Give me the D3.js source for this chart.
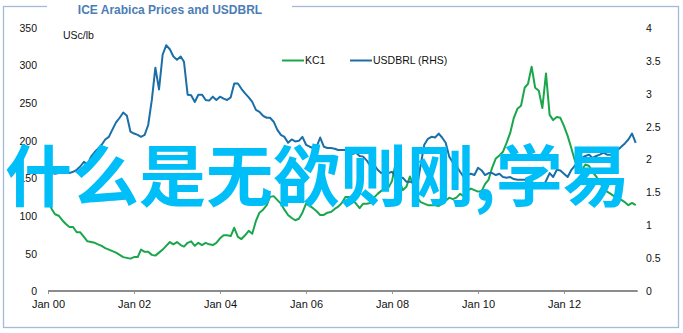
<!DOCTYPE html>
<html>
<head>
<meta charset="utf-8">
<script src="https://cdn.jsdelivr.net/npm/d3@7"></script>
<style>
  body { margin: 0; background: #fff; }
  svg { display: block; font-family: "Liberation Sans", Arial, sans-serif; }
</style>
</head>
<body>
<svg width="683" height="333"></svg>
<script>
// monthly series, first month Jan 2000
const startYear = 2000;
const kc1 = [121,109,102,100,94,89,85,85,78,78,
  72,66,65,64,62,60,57,55,53,51,
  48,45,44,43,45,45,55,52,52,48,
  47,51,55,60,65,62,65,61,59,64,
  66,60,64,61,64,62,61,64,70,74,
  74,73,84,72,69,74,80,76,93,104,
  108,114,125,126,121,116,108,101,97,94,
  96,104,116,113,110,106,101,101,104,105,
  109,112,117,125,125,121,116,110,116,116,
  117,124,129,133,136,137,146,170,148,134,
  138,152,141,124,118,116,114,114,114,113,
  116,120,124,122,124,129,126,133,136,134,
  132,133,142,148,164,176,180,185,197,210,
  230,242,246,270,275,298,270,266,243,289,
  234,227,231,230,219,206,191,174,162,161,
  168,166,158,152,144,137,132,129,126,124,
  121,118,114,117,114];
const usdbrl = [1.76,1.79,1.78,1.79,1.83,1.84,1.79,1.81,1.84,1.89,
  1.96,1.92,2.04,2.11,2.16,2.22,2.30,2.34,2.45,2.56,
  2.63,2.71,2.66,2.42,2.39,2.37,2.34,2.37,2.52,2.90,
  3.39,3.06,3.59,3.73,3.67,3.56,3.51,3.56,3.48,2.98,
  2.97,2.87,2.98,2.98,2.90,2.89,2.95,2.90,2.95,2.92,
  2.90,2.94,3.15,3.15,3.07,3.00,2.94,2.87,2.75,2.72,
  2.66,2.63,2.63,2.57,2.45,2.37,2.34,2.25,2.30,2.27,
  2.28,2.34,2.22,2.19,2.17,2.19,2.33,2.19,2.17,2.17,
  2.16,2.14,2.14,2.14,2.11,2.08,2.10,2.05,2.04,1.98,
  1.90,1.92,1.84,1.79,1.81,1.79,1.81,1.73,1.70,1.72,
  1.66,1.66,1.64,1.58,1.92,2.22,2.31,2.34,2.33,2.39,
  2.33,2.25,2.04,1.95,1.90,1.81,1.73,1.76,1.78,1.76,
  1.87,1.83,1.76,1.79,1.79,1.76,1.78,1.73,1.72,1.73,
  1.70,1.69,1.69,1.69,1.67,1.63,1.58,1.57,1.58,1.67,
  1.79,1.73,1.84,1.83,1.78,1.73,1.83,1.90,1.96,2.02,
  2.05,2.07,2.02,2.05,2.07,2.10,2.07,2.07,2.08,2.14,
  2.19,2.24,2.30,2.39,2.25];
const leftTicks = [0, 50, 100, 150, 200, 250, 300, 350];
const rightTicks = [0, 0.5, 1, 1.5, 2, 2.5, 3, 3.5, 4];
const seriesNames = ["KC1", "USDBRL (RHS)"];
const colors = ["#1aa64b", "#1b6fa8"];

const months = kc1.map((d, i) => new Date(startYear, i, 1));

const svg = d3.select("svg");

const x = d3.scaleTime()
    .domain([new Date(2000, 0, 1), new Date(2012, 0, 1)])
    .range([48, 564]);
const yL = d3.scaleLinear().domain([0, 350]).range([291, 27.5]);
const yR = d3.scaleLinear().domain([0, 4]).range([291, 27.5]);

// frame with title gap
svg.append("rect")
    .attr("x", 3.5).attr("y", 6.5)
    .attr("width", 675).attr("height", 321)
    .attr("fill", "none")
    .attr("stroke", "#a3bbd6")
    .attr("stroke-width", 1.3);
svg.append("rect")
    .attr("x", 47).attr("y", 3).attr("width", 245).attr("height", 7)
    .attr("fill", "#fff");
svg.append("text")
    .attr("x", 170).attr("y", 13.5)
    .attr("text-anchor", "middle")
    .style("font-size", "12px")
    .style("font-weight", "bold")
    .style("fill", "#4a7db5")
    .text("ICE Arabica Prices and USDBRL");

// axes
const leftAxis = svg.append("g")
    .attr("transform", "translate(37,0)")
    .call(d3.axisLeft(yL).tickValues(leftTicks).tickSize(0).tickPadding(0));
const rightAxis = svg.append("g")
    .attr("transform", "translate(646,0)")
    .call(d3.axisRight(yR).tickValues(rightTicks).tickSize(0).tickPadding(0).tickFormat(d => d));
[leftAxis, rightAxis].forEach(g => {
    g.select(".domain").remove();
    g.selectAll("text").style("font-size", "10.5px").style("fill", "#111").attr("dy", "0.35em");
});

const bottomAxis = svg.append("g")
    .attr("transform", "translate(0,291)")
    .call(d3.axisBottom(x)
        .ticks(d3.timeYear.every(2))
        .tickSize(3)
        .tickPadding(6)
        .tickFormat(d3.timeFormat("Jan %y")));
bottomAxis.select(".domain").remove();
bottomAxis.selectAll("line").attr("stroke", "#999");
bottomAxis.selectAll("text").style("font-size", "11px").style("fill", "#111");

svg.append("line")
    .attr("x1", x(months[0])).attr("x2", x(months[months.length - 1]) + 2)
    .attr("y1", 291).attr("y2", 291)
    .attr("stroke", "#8c8c8c")
    .attr("stroke-width", 2);

svg.append("text")
    .attr("x", 63).attr("y", 39)
    .style("font-size", "10.5px")
    .style("fill", "#111")
    .text("USc/lb");

// lines
const lineL = d3.line().x((d, i) => x(months[i])).y(d => yL(d));
const lineR = d3.line().x((d, i) => x(months[i])).y(d => yR(d));

svg.append("path")
    .datum(kc1)
    .attr("d", lineL)
    .attr("fill", "none")
    .attr("stroke", colors[0])
    .attr("stroke-width", 2)
    .attr("stroke-linejoin", "round");
svg.append("path")
    .datum(usdbrl)
    .attr("d", lineR)
    .attr("fill", "none")
    .attr("stroke", colors[1])
    .attr("stroke-width", 2)
    .attr("stroke-linejoin", "round");

// legend
const legend = svg.append("g").attr("transform", "translate(282,60.5)");
const item = legend.selectAll("g")
    .data(seriesNames)
    .enter()
    .append("g")
    .attr("transform", (d, i) => `translate(${i * 68},0)`);
item.append("line")
    .attr("x1", 0).attr("x2", 22)
    .attr("stroke", (d, i) => colors[i])
    .attr("stroke-width", 2);
item.append("text")
    .attr("x", 23).attr("dy", "0.35em")
    .style("font-size", "10.5px")
    .style("fill", "#111")
    .text(d => d);

// watermark
svg.append("text")
    .attr("x", 5).attr("y", 201)
    .style("font-family", "'Noto Sans CJK SC', sans-serif")
    .style("font-size", "67px")
    .style("font-weight", "bold")
    .style("fill", "#00bef8")
    .text("什么是无欲则刚,学易");
</script>
</body>
</html>
